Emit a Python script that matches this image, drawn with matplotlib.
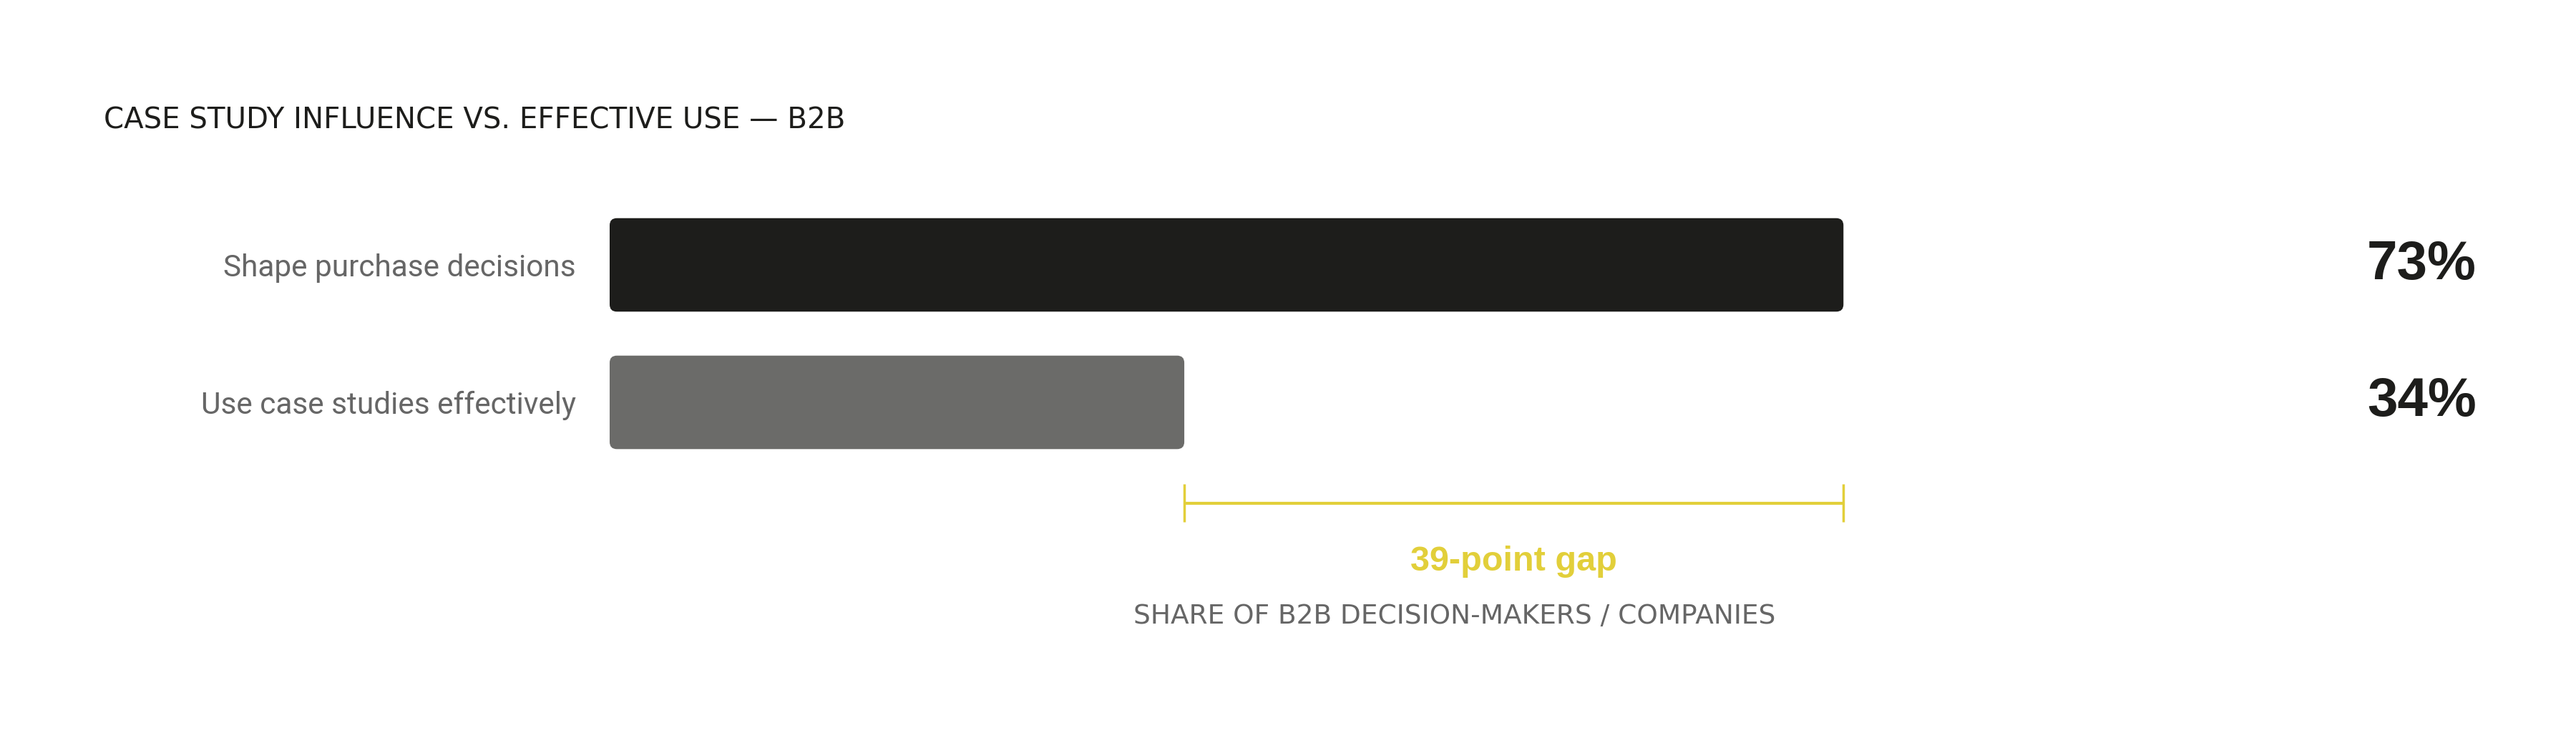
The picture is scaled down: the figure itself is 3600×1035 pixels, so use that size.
import matplotlib
matplotlib.use("Agg")
import matplotlib.pyplot as plt
from matplotlib.patches import FancyBboxPatch
import matplotlib.transforms as mtransforms

# ---- data ----
categories = ["Shape purchase decisions", "Use case studies effectively"]
values = [73, 34]
value_labels = ["73%", "34%"]
title = "CASE STUDY INFLUENCE VS. EFFECTIVE USE \u2014 B2B"
xlabel = "SHARE OF B2B DECISION-MAKERS / COMPANIES"

# ---- style ----
bar_colors = ["#1d1d1b", "#6b6b69"]
dark = "#1d1d1b"
gray = "#666666"
yellow = "#E2CF3A"
main_font = ["Roboto", "DejaVu Sans"]
wide_font = ["DejaVu Sans"]
bold_font = ["Liberation Sans", "DejaVu Sans"]

W, H, DPI = 36.0, 10.35, 100
fig = plt.figure(figsize=(W, H), dpi=DPI)
fig.patch.set_facecolor("white")

# axes geometry (pixels)
x0_px, x1_px = 852, 3214
ylim = (2.4, -0.9)
row0_px, row_step_px = 370, 192
top_px = row0_px + ylim[1] * row_step_px
bot_px = row0_px + ylim[0] * row_step_px
ax = fig.add_axes([x0_px / 3600, 1 - bot_px / 1035,
                   (x1_px - x0_px) / 3600, (bot_px - top_px) / 1035])
ax.set_xlim(0, 100)
ax.set_ylim(*ylim)
for s in ax.spines.values():
    s.set_visible(False)
ax.set_facecolor("none")

ypos = list(range(len(categories)))
bar_h = 0.68
bars = ax.barh(ypos, values, height=bar_h, color=bar_colors)

# replace with rounded bars
px_per_x = (x1_px - x0_px) / 100.0
aspect = px_per_x / row_step_px
for b, c in zip(bars, bar_colors):
    x, y = b.get_x(), b.get_y()
    w, h = b.get_width(), b.get_height()
    b.set_visible(False)
    p = FancyBboxPatch((x, y), w, h,
                       boxstyle="round,pad=0,rounding_size=%f" % (10 / px_per_x),
                       mutation_aspect=aspect, facecolor=c, edgecolor="none")
    ax.add_patch(p)

ax.set_yticks(ypos)
ax.set_yticklabels(categories, fontsize=30.5, color=gray, family=main_font)
ax.tick_params(axis="y", length=0, pad=34)
ax.tick_params(axis="x", length=0, labelbottom=False)

# value labels on the right
trans = mtransforms.blended_transform_factory(ax.transAxes, ax.transData)
for yv, lab in zip(ypos, value_labels):
    ax.text(1.1046, yv, lab, transform=trans, ha="right", va="center",
            fontsize=55, fontweight="bold", color=dark, family=bold_font)

# gap bracket
gap = values[0] - values[1]
yb = 1.734
tick = 0.138
ax.plot([values[1], values[0]], [yb, yb], color=yellow, lw=3, solid_capstyle="butt", clip_on=False)
ax.vlines([values[1], values[0]], yb - tick, yb + tick, color=yellow, lw=2.5, clip_on=False)
ax.text((values[0] + values[1]) / 2, 2.16, f"{gap}-point gap", ha="center", va="center",
        fontsize=35, fontweight="bold", color=yellow, family=bold_font, clip_on=False)

ax.set_xlabel(xlabel, fontsize=27, color=gray, family=wide_font, labelpad=9)

fig.text(145 / 3600, 1 - 168 / 1035, title, ha="left", va="center",
         fontsize=29, color=dark, family=wide_font)

fig.savefig("out.png", dpi=DPI, facecolor="white")
